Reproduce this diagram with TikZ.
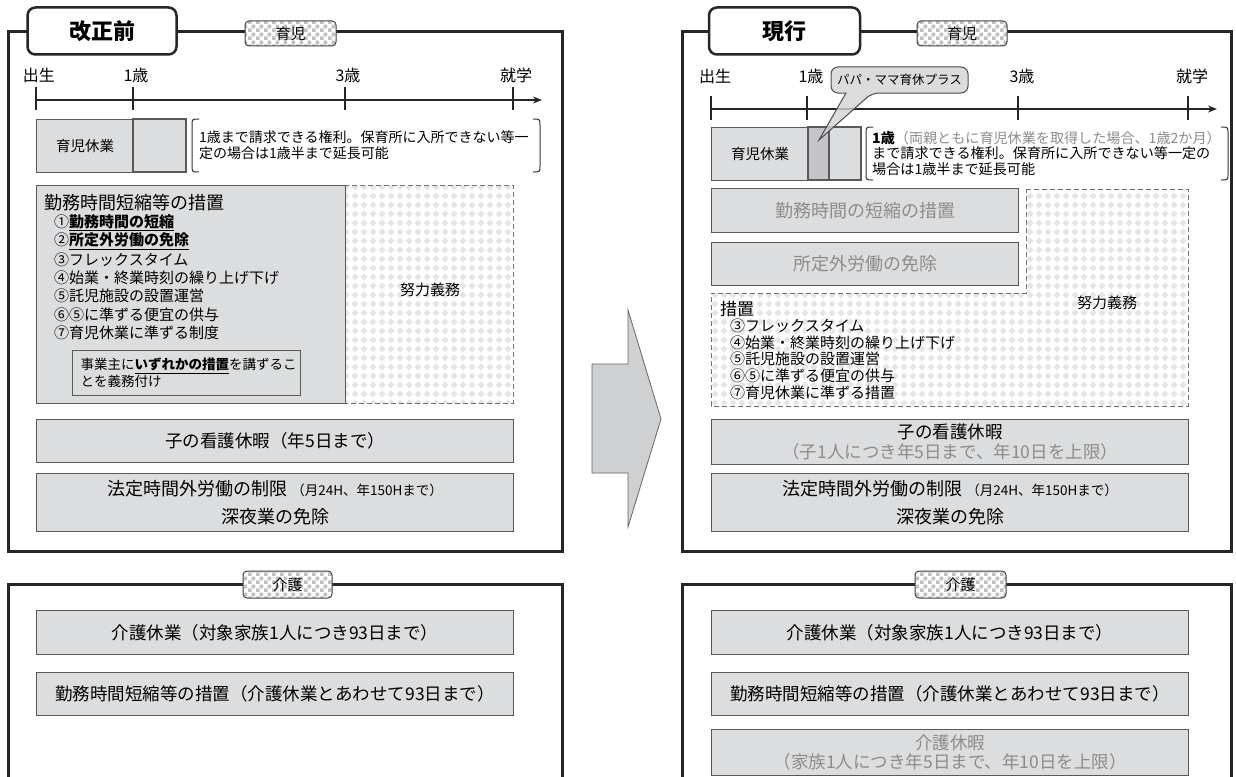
\documentclass[tikz,border=0pt]{standalone}
\usepackage{fontspec}
\setmainfont{Noto Sans CJK JP}
\usepackage{tikz}
\usetikzlibrary{arrows.meta,patterns}
\definecolor{boxgray}{RGB}{220,221,223}
\definecolor{segdark}{RGB}{196,197,200}
\definecolor{txtgray}{RGB}{140,140,140}
\definecolor{arrowgray}{RGB}{207,208,210}
\def\fsz#1#2{\fontsize{#1}{#2}\selectfont}
\def\bracepair(#1,#2)(#3,#4){\draw[brace] (#1+7,#2) .. controls (#1,#2) .. (#1,#2+7) -- (#1,#4-7) .. controls (#1,#4) .. (#1+7,#4);
  \draw[brace] (#3-7,#2) .. controls (#3,#2) .. (#3,#2+7) -- (#3,#4-7) .. controls (#3,#4) .. (#3-7,#4);}
\pgfdeclarepatternformonly{lattice}{\pgfqpoint{0pt}{0pt}}{\pgfqpoint{9pt}{9pt}}{\pgfqpoint{9pt}{9pt}}{%
  \pgfpathmoveto{\pgfqpoint{4.5pt}{0.7pt}}\pgfpathlineto{\pgfqpoint{8.3pt}{4.5pt}}%
  \pgfpathlineto{\pgfqpoint{4.5pt}{8.3pt}}\pgfpathlineto{\pgfqpoint{0.7pt}{4.5pt}}\pgfpathclose\pgfusepath{fill}}
\pgfdeclarepatternformonly{smallchecker}{\pgfqpoint{0pt}{0pt}}{\pgfqpoint{8pt}{8pt}}{\pgfqpoint{8pt}{8pt}}{%
  \pgfpathrectangle{\pgfqpoint{0pt}{0pt}}{\pgfqpoint{4pt}{4pt}}%
  \pgfpathrectangle{\pgfqpoint{4pt}{4pt}}{\pgfqpoint{4pt}{4pt}}\pgfusepath{fill}}
\tikzset{
  frame/.style={draw=black!85, line width=3pt},
  bigtab/.style={draw=black!85, line width=2.5pt, rounded corners=8pt, fill=white, inner sep=0pt},
  smalltab/.style={draw=black!75, line width=1pt, rounded corners=4pt, preaction={fill=white}, pattern=smallchecker, pattern color=black!25, inner sep=0pt},
  axis/.style={line width=1.5pt, draw=black!85, -{Stealth[length=9pt,width=7pt]}},
  tick/.style={line width=2pt, draw=black!85},
  graybox/.style={draw=black!65, line width=1.3pt, fill=boxgray, inner sep=2pt},
  effort/.style={draw=black!55, dash pattern=on 5pt off 3pt, line width=1pt, preaction={fill=white}, pattern=lattice, pattern color=black!10},
  brace/.style={draw=black!80, line width=1pt},
  listtext/.style={anchor=west, inner sep=0pt},
  callout/.style={draw=black!70, line width=1pt, fill=black!17, fill opacity=0.8},
  bigarrow/.style={draw=black!60, line width=0.8pt, fill=arrowgray}
}

\begin{document}
\begin{tikzpicture}[x=1pt,y=-1pt]
	%%%%% START %%%%%
	\useasboundingbox (0,0) rectangle (1236,776);
	\fill[white] (0,0) rectangle (1236,776);

	%%%%% BEFORE %%%%%
	\draw[frame] (8,32) rectangle (562,551);
	\node[bigtab, minimum width=149pt, minimum height=47pt] (oldtab) at (102,31) {\fsz{22}{22}\bfseries 改正前};
	\node[smalltab, minimum width=91pt, minimum height=25pt] (oldikuji) at (290.5,33.5) {\fsz{15}{15}育児};

	\draw[axis] (36,100) -- (542,100);
	\foreach \x/\t in {36/出生,133/1歳,345/3歳,513/就学}{
		\draw[tick] (\x,87) -- (\x,110);
		\node[inner sep=0pt] (oldlbl\x) at (\x+3,75) {\fsz{16}{16}\t};
	}

	\node[graybox, minimum width=97pt, minimum height=53pt, anchor=north west] (oldkyugyo) at (36,119) {\fsz{14.5}{14.5}育児休業};
	\draw[graybox] (133,119) rectangle (186,172);
	\bracepair(192,119)(540,172)
	\node[anchor=west, align=left, inner sep=0pt, font={\fsz{14}{16}}] (oldnote) at (199,145.5) {1歳まで請求できる権利。保育所に入所できない等一\\定の場合は1歳半まで延長可能};

	\draw[effort] (345,185) rectangle (513,403);
	\node[graybox, minimum width=309pt, minimum height=218pt, anchor=north west] (oldsochi) at (36,185) {};
	\node[listtext] (oldhead) at (44,203) {\fsz{18}{18}勤務時間短縮等の措置};
	\foreach \txt [count=\i from 0] in {①\underline{\textbf{勤務時間の短縮}},②\underline{\textbf{所定外労働の免除}},③フレックスタイム,④始業・終業時刻の繰り上げ下げ,⑤託児施設の設置運営,⑥⑤に準ずる便宜の供与,⑦育児休業に準ずる制度}
		\node[listtext] (oldm\i) at (54,{223+18.3*\i}) {\fsz{15}{15}\txt};
	\node[graybox, minimum width=228pt, minimum height=45pt, anchor=north west, align=left, text width=212pt, font={\fsz{13.5}{17}}] (oldgimu) at (72,350) {事業主に\underline{\textbf{いずれかの措置}}を講ずるこ\\とを義務付け};
	\node (olddoryoku) at (430,290) {\fsz{15}{15}努力義務};

	\node[graybox, minimum width=477pt, minimum height=43pt, anchor=north west] (oldkango) at (36,419) {\fsz{17.5}{17.5}子の看護休暇（年5日まで）};
	\node[graybox, minimum width=477pt, minimum height=58pt, anchor=north west, align=center, font={\fsz{18}{28}}] (oldhotei) at (36,473) {法定時間外労働の制限 {\fsz{13.5}{13.5}（月24H、年150Hまで）}\\深夜業の免除};

	%%%%% ARROW %%%%%
	\draw[bigarrow] (592,364) -- (628,364) -- (628,310) -- (661,419) -- (628,527) -- (628,473) -- (592,473) -- cycle;

	%%%%% NOW %%%%%
	\draw[frame] (682,32) rectangle (1231,551);
	\node[bigtab, minimum width=151pt, minimum height=47pt] (newtab) at (784.5,31) {\fsz{22}{22}\bfseries 現行};
	\node[smalltab, minimum width=90pt, minimum height=25pt] (newikuji) at (962,33.5) {\fsz{15}{15}育児};

	\draw[axis] (711,109) -- (1217,109);
	\foreach \x/\t in {711/出生,807/1歳,1018/3歳,1188/就学}{
		\draw[tick] (\x,96) -- (\x,120);
		\node[inner sep=0pt] (newlbl\x) at (\x+4,76) {\fsz{16}{16}\t};
	}

	\node[graybox, minimum width=97pt, minimum height=53pt, anchor=north west] (newkyugyo) at (711,127) {\fsz{14.5}{14.5}育児休業};
	\draw[graybox, fill=segdark] (808,127) rectangle (829,180);
	\draw[graybox] (829,127) rectangle (861,180);
	\bracepair(866,127)(1228,180)
	\node[anchor=west, align=left, inner sep=0pt, font={\fsz{14.1}{15.5}}] (newnote) at (872,153.5) {\textbf{1歳}{\color{txtgray}（両親ともに育児休業を取得した場合、1歳2か月）}\\まで請求できる権利。保育所に入所できない等一定の\\場合は1歳半まで延長可能};

	\draw[callout] (831,80) [rounded corners=7pt] -- (831,67) -- (968,67) -- (968,93) -- (872,93) [sharp corners] -- (819,140) -- (846,93) [rounded corners=7pt] -- (831,93) -- cycle;
	\node (papamama) at (899.5,80) {\fsz{12.5}{12.5}パパ・ママ育休プラス};

	\draw[effort] (1026,189) -- (1188,189) -- (1188,406) -- (711,406) -- (711,293) -- (1026,293) -- cycle;
	\node[graybox, minimum width=307pt, minimum height=44pt, anchor=north west, text=txtgray] (newtanshuku) at (711,188) {\fsz{18}{18}勤務時間の短縮の措置};
	\node[graybox, minimum width=307pt, minimum height=43pt, anchor=north west, text=txtgray] (newshoteigai) at (711,242) {\fsz{18}{18}所定外労働の免除};
	\node (newdoryoku) at (1107,303) {\fsz{15}{15}努力義務};
	\node[listtext] (newhead) at (720,309) {\fsz{17}{17}措置};
	\foreach \txt [count=\i from 0] in {③フレックスタイム,④始業・終業時刻の繰り上げ下げ,⑤託児施設の設置運営,⑥⑤に準ずる便宜の供与,⑦育児休業に準ずる措置}
		\node[listtext] (newm\i) at (730,{326+16.6*\i}) {\fsz{15}{15}\txt};

	\node[graybox, minimum width=477pt, minimum height=45pt, anchor=north west, align=center, font={\fsz{17.5}{20}}] (newkango) at (711,419) {子の看護休暇\\{\color{txtgray}（子1人につき年5日まで、年10日を上限）}};
	\node[graybox, minimum width=477pt, minimum height=58pt, anchor=north west, align=center, font={\fsz{18}{28}}] (newhotei) at (711,473) {法定時間外労働の制限 {\fsz{13.5}{13.5}（月24H、年150Hまで）}\\深夜業の免除};

	%%%%% KAIGO %%%%%
	\draw[frame] (8,790) -- (8,584) -- (562,584) -- (562,790);
	\node[smalltab, minimum width=89pt, minimum height=27pt] (oldkaigo) at (287.5,584.5) {\fsz{15}{15}介護};
	\node[graybox, minimum width=477pt, minimum height=44pt, anchor=north west] (oldkaigokyugyo) at (36,610) {\fsz{17.5}{17.5}介護休業（対象家族1人につき93日まで）};
	\node[graybox, minimum width=477pt, minimum height=43pt, anchor=north west] (oldkaigosochi) at (36,672) {\fsz{17.5}{17.5}勤務時間短縮等の措置（介護休業とあわせて93日まで）};

	\draw[frame] (682,790) -- (682,584) -- (1231,584) -- (1231,790);
	\node[smalltab, minimum width=91pt, minimum height=27pt] (newkaigo) at (960.5,584.5) {\fsz{15}{15}介護};
	\node[graybox, minimum width=477pt, minimum height=44pt, anchor=north west] (newkaigokyugyo) at (711,610) {\fsz{17.5}{17.5}介護休業（対象家族1人につき93日まで）};
	\node[graybox, minimum width=477pt, minimum height=43pt, anchor=north west] (newkaigosochi) at (711,672) {\fsz{17.5}{17.5}勤務時間短縮等の措置（介護休業とあわせて93日まで）};
	\node[graybox, minimum width=477pt, minimum height=46pt, anchor=north west, align=center, text=txtgray, font={\fsz{17.5}{19}}] (newkaigokyuka) at (711,729) {介護休暇\\（家族1人につき年5日まで、年10日を上限）};
	%%%%% END %%%%%
\end{tikzpicture}
\end{document}
